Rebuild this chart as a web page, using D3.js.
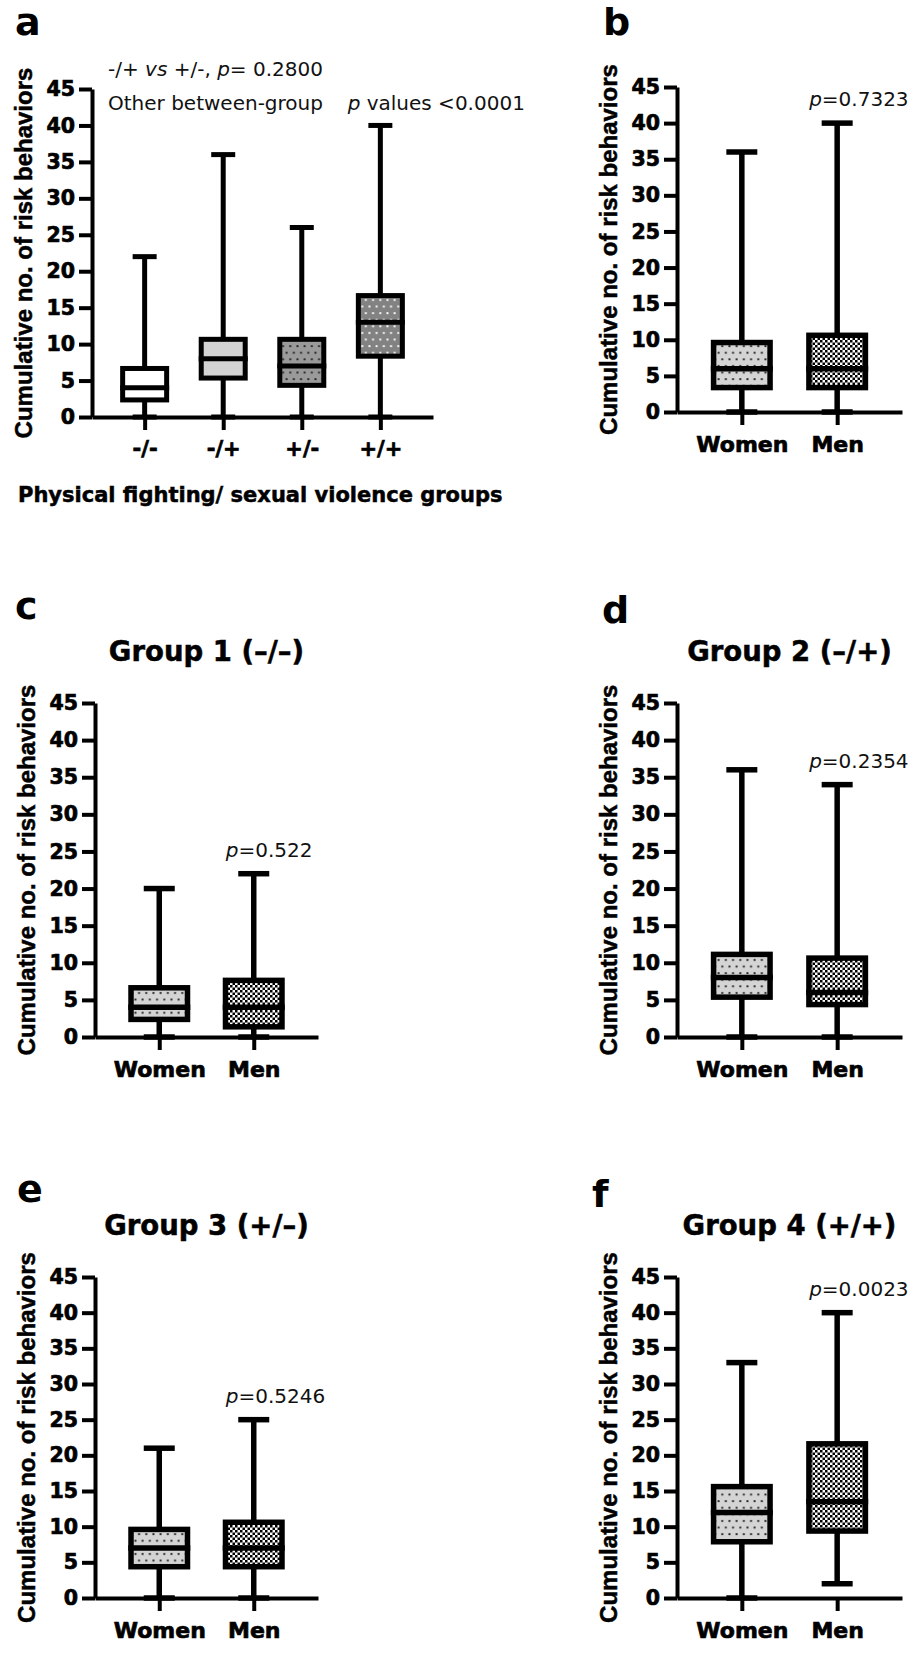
<!DOCTYPE html>
<html>
<head>
<meta charset="utf-8">
<script src="https://cdn.jsdelivr.net/npm/d3@7"></script>
<style>
  html, body { margin: 0; padding: 0; background: #fff; }
  svg text { white-space: pre; }
</style>
</head>
<body>
<div id="chart"></div>
<script>
'use strict'

////////////////////////////////////
//////////// data //////////////////
////////////////////////////////////

// each box: [min, Q1, median, Q3, max]
const groupCats = ["-/-", "-/+", "+/-", "+/+"]
const sexCats = ["Women", "Men"]
const yTickValues = [0, 5, 10, 15, 20, 25, 30, 35, 40, 45]

// a: physical fighting / sexual violence groups
const groupNegNeg = [0, 2, 4, 7, 22]
const groupNegPos = [0, 5, 8, 11, 36]
const groupPosNeg = [0, 4, 7, 11, 26]
const groupPosPos = [0, 8, 13, 17, 40]

// b: all participants
const womenAll = [0, 3, 6, 10, 36]
const menAll = [0, 3, 6, 11, 40]
// c: group 1
const womenG1 = [0, 2, 4, 7, 20]
const menG1 = [0, 1, 4, 8, 22]
// d: group 2
const womenG2 = [0, 5, 8, 11.5, 36]
const menG2 = [0, 4, 6, 11, 34]
// e: group 3
const womenG3 = [0, 4, 7, 10, 21]
const menG3 = [0, 4, 7, 11, 25]
// f: group 4
const womenG4 = [0, 7.5, 12, 16, 33]
const menG4 = [2, 9, 13.5, 22, 40]

const panelTitles = ["Group 1 (–/–)", "Group 2 (–/+)", "Group 3 (+/–)", "Group 4 (+/+)"]
const pValues = ["0.7323", "0.522", "0.2354", "0.5246", "0.0023"]

////////////////////////////////////
//////////// layout ////////////////
////////////////////////////////////

const bold = 'DejaVu Sans'
const sexFills = ["url(#dotsLight)", "url(#checker)"]

const panels = [
  { letter: "a", lx: 15, ly: 35, left: 92, right: 433, top: 89, bottom: 417,
    cats: groupCats, boxes: [groupNegNeg, groupNegPos, groupPosNeg, groupPosPos],
    fills: ["#ffffff", "#d3d3d3", "url(#dotsMid)", "url(#dotsDark)"],
    boxW: 49, capW: 24, sw: 5, pad: 0.67, catSize: 21 },
  { letter: "b", lx: 603, ly: 35, left: 677, right: 902, top: 87, bottom: 412,
    cats: sexCats, boxes: [womenAll, menAll], p: pValues[0] },
  { letter: "c", lx: 15, ly: 619, left: 95, right: 318, top: 703, bottom: 1037,
    cats: sexCats, boxes: [womenG1, menG1], title: panelTitles[0], p: pValues[1] },
  { letter: "d", lx: 602, ly: 623, left: 677, right: 902, top: 703, bottom: 1037,
    cats: sexCats, boxes: [womenG2, menG2], title: panelTitles[1], p: pValues[2] },
  { letter: "e", lx: 17, ly: 1202, left: 95, right: 318, top: 1277, bottom: 1598,
    cats: sexCats, boxes: [womenG3, menG3], title: panelTitles[2], p: pValues[3] },
  { letter: "f", lx: 592, ly: 1207, left: 677, right: 902, top: 1277, bottom: 1598,
    cats: sexCats, boxes: [womenG4, menG4], title: panelTitles[3], p: pValues[4] }
]

////////////////////////////////////
//////////// svg setup /////////////
////////////////////////////////////

const svg = d3.select('#chart')
  .append('svg')
  .attr('width', 920)
  .attr('height', 1664)
  .style('display', 'block')

svg.append('rect').attr('width', 920).attr('height', 1664).attr('fill', '#fff')

// fill patterns
const defs = svg.append('defs')

function dotPattern(id, bg, dot) {
  const p = defs.append('pattern')
    .attr('id', id)
    .attr('patternUnits', 'userSpaceOnUse')
    .attr('width', 7.2)
    .attr('height', 13.2)
  p.append('rect').attr('width', 7.2).attr('height', 13.2).attr('fill', bg)
  p.append('rect').attr('x', 1.3).attr('y', 2).attr('width', 1.9).attr('height', 1.9).attr('fill', dot)
  p.append('rect').attr('x', 4.9).attr('y', 8.6).attr('width', 1.9).attr('height', 1.9).attr('fill', dot)
}
dotPattern('dotsLight', '#d4d4d4', '#222')
dotPattern('dotsMid', '#9a9a9a', '#222')
dotPattern('dotsDark', '#828282', '#fff')

const checker = defs.append('pattern')
  .attr('id', 'checker')
  .attr('patternUnits', 'userSpaceOnUse')
  .attr('width', 5)
  .attr('height', 5)
checker.append('rect').attr('width', 5).attr('height', 5).attr('fill', '#fff')
checker.append('rect').attr('width', 2.5).attr('height', 2.5).attr('fill', '#000')
checker.append('rect').attr('x', 2.5).attr('y', 2.5).attr('width', 2.5).attr('height', 2.5).attr('fill', '#000')

// heavier bold text, like the source figure
function heavy(sel, w) {
  return sel.attr('stroke', '#000').attr('stroke-width', w || 0.6).attr('paint-order', 'stroke')
}

////////////////////////////////////
//////////// panels ////////////////
////////////////////////////////////

panels.forEach(cfg => {
  const g = svg.append('g')
  const boxW = cfg.boxW || 62
  const capW = cfg.capW || 31
  const sw = cfg.sw || 5.5
  const fills = cfg.fills || sexFills

  const y = d3.scaleLinear().domain([0, 45]).range([cfg.bottom, cfg.top])
  const x = d3.scalePoint().domain(cfg.cats).range([cfg.left, cfg.right]).padding(cfg.pad || 0.68)

  // panel letter
  g.append('text')
    .attr('x', cfg.lx).attr('y', cfg.ly)
    .style('font-family', bold).style('font-weight', 'bold').style('font-size', '38px')
    .text(cfg.letter)

  // group title
  if (cfg.title) {
    heavy(g.append('text')
      .attr('x', (cfg.left + cfg.right) / 2).attr('y', cfg.top - 42)
      .attr('text-anchor', 'middle')
      .style('font-family', bold).style('font-weight', 'bold').style('font-size', '27.5px')
      .text(cfg.title), 0.5)
  }

  // y axis title
  heavy(g.append('text')
    .attr('transform', `translate(${cfg.left - 60},${(cfg.top + cfg.bottom) / 2}) rotate(-90)`)
    .attr('text-anchor', 'middle')
    .style('font-family', 'Liberation Sans').style('font-weight', 'bold').style('font-size', '24px')
    .text('Cumulative no. of risk behaviors'), 0.5)

  // axes
  const yAxis = g.append('g')
    .attr('transform', `translate(${cfg.left},0)`)
    .call(d3.axisLeft(y).tickValues(yTickValues).tickSize(13).tickPadding(4).tickSizeOuter(0))
  const xAxis = g.append('g')
    .attr('transform', `translate(0,${cfg.bottom})`)
    .call(d3.axisBottom(x).tickSize(13).tickPadding(11).tickSizeOuter(0))

  ;[yAxis, xAxis].forEach(ax => {
    ax.select('.domain').attr('stroke', '#000').attr('stroke-width', 4)
    ax.selectAll('.tick line').attr('stroke', '#000').attr('stroke-width', 4)
  })
  heavy(yAxis.selectAll('.tick text')
    .attr('fill', '#000')
    .style('font-family', bold).style('font-weight', 'bold').style('font-size', '20.5px'), 0.7)
  heavy(xAxis.selectAll('.tick text')
    .attr('fill', '#000')
    .style('font-family', bold).style('font-weight', 'bold').style('font-size', (cfg.catSize || 22) + 'px'), 0.7)

  // boxes
  const boxData = cfg.cats.map((c, i) => ({ cat: c, v: cfg.boxes[i], fill: fills[i] }))
  const bx = g.selectAll('.box').data(boxData).join('g').attr('class', 'box')

  bx.append('line')
    .attr('x1', d => x(d.cat)).attr('x2', d => x(d.cat))
    .attr('y1', d => y(d.v[0])).attr('y2', d => y(d.v[4]))
    .attr('stroke', '#000').attr('stroke-width', sw)

  bx.selectAll('.cap').data(d => [[d.cat, d.v[0]], [d.cat, d.v[4]]]).join('line')
    .attr('class', 'cap')
    .attr('x1', d => x(d[0]) - capW / 2).attr('x2', d => x(d[0]) + capW / 2)
    .attr('y1', d => y(d[1])).attr('y2', d => y(d[1]))
    .attr('stroke', '#000').attr('stroke-width', sw)

  bx.append('rect')
    .attr('x', d => x(d.cat) - boxW / 2 + sw / 2)
    .attr('y', d => y(d.v[3]) + sw / 2)
    .attr('width', boxW - sw)
    .attr('height', d => y(d.v[1]) - y(d.v[3]) - sw)
    .attr('fill', d => d.fill)
    .attr('stroke', '#000').attr('stroke-width', sw)

  bx.append('line')
    .attr('x1', d => x(d.cat) - boxW / 2).attr('x2', d => x(d.cat) + boxW / 2)
    .attr('y1', d => y(d.v[2])).attr('y2', d => y(d.v[2]))
    .attr('stroke', '#000').attr('stroke-width', sw)

  // p value above men
  if (cfg.p) {
    const men = cfg.boxes[1]
    const t = g.append('text')
      .attr('x', x('Men') - 28).attr('y', y(men[4]) - 17)
      .style('font-family', 'DejaVu Sans').style('font-size', '20px').attr('fill', '#111')
    t.append('tspan').style('font-style', 'italic').text('p')
    t.append('tspan').text('=' + cfg.p)
  }

  // panel a extras
  if (cfg.letter === 'a') {
    const t1 = g.append('text').attr('x', 108).attr('y', 76)
      .style('font-family', 'DejaVu Sans').style('font-size', '20px').attr('fill', '#111')
    t1.append('tspan').text('-/+ ')
    t1.append('tspan').style('font-style', 'italic').text('vs')
    t1.append('tspan').text(' +/-, ')
    t1.append('tspan').style('font-style', 'italic').text('p')
    t1.append('tspan').text('= 0.2800')

    const t2 = g.append('text').attr('x', 108).attr('y', 110)
      .style('font-family', 'DejaVu Sans').style('font-size', '20px').attr('fill', '#111')
    t2.append('tspan').text('Other between-group  ')
    t2.append('tspan').attr('dx', 12).style('font-style', 'italic').text('p')
    t2.append('tspan').text(' values <0.0001')

    heavy(g.append('text').attr('x', 18).attr('y', 502)
      .style('font-family', bold).style('font-weight', 'bold').style('font-size', '21px')
      .text('Physical fighting/ sexual violence groups'), 0.5)
  }
})
</script>
</body>
</html>
